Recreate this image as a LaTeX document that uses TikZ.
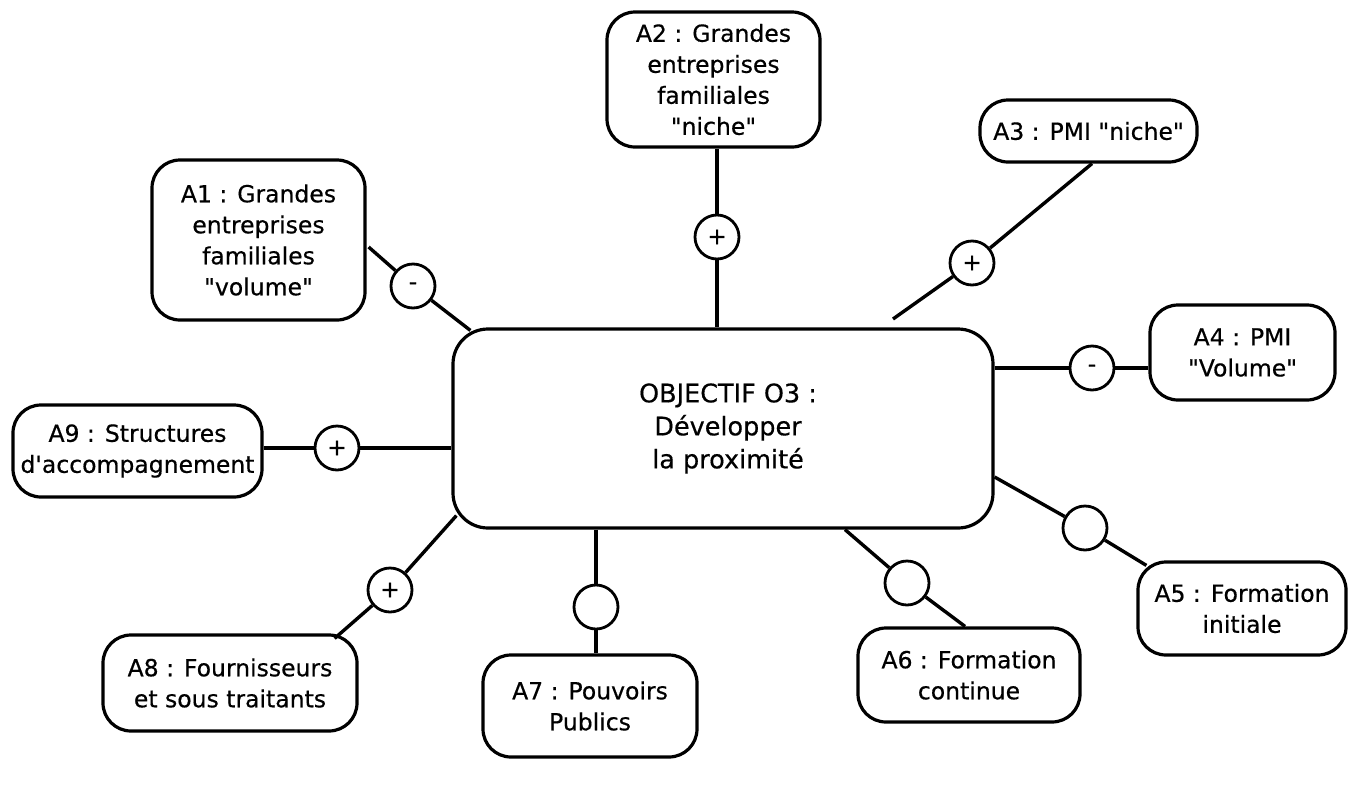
\documentclass[tikz,border=0pt]{standalone}
\usepackage{fontspec}
\setmainfont{DejaVu Sans}[Ligatures=TeXOff, FakeBold=0.5]
\newcommand\boxfont{\fontsize{23.5}{31}\selectfont}
\newcommand\mainfont{\fontsize{25.5}{33}\selectfont}
\newcommand\signfont{\fontsize{23}{23}\selectfont}
\begin{document}
\begin{tikzpicture}[x=1pt,y=-1pt,
  box/.style={draw, line width=3.2pt, rounded corners=28pt, align=center,
    inner sep=0pt, font=\boxfont},
  sign/.style={draw, circle, line width=2.8pt, minimum size=44pt,
    inner sep=0pt, font=\signfont},
  link/.style={line width=3.4pt}]
\useasboundingbox (0,0) rectangle (1358,785);

% central objective
\node[box, rounded corners=35pt, minimum width=540pt, minimum height=199pt,
  font=\mainfont]
  (obj) at (723,428.5) {\hspace*{10pt}OBJECTIF O3 :\\\hspace*{10pt}Développer\\\hspace*{10pt}la proximité};

% actors
\node[box, minimum width=213pt, minimum height=160pt] (a1) at (258.5,240)
  {A1 : Grandes\\entreprises\\familiales\\"volume"};
\node[box, minimum width=213pt, minimum height=135pt] (a2) at (713.5,79.5)
  {A2 : Grandes\\entreprises\\familiales\\"niche"};
\node[box, minimum width=217pt, minimum height=62pt] (a3) at (1088.5,131)
  {A3 : PMI "niche"};
\node[box, minimum width=185pt, minimum height=95pt] (a4) at (1242.5,352.5)
  {A4 : PMI\\"Volume"};
\node[box, minimum width=208pt, minimum height=93pt] (a5) at (1242,608.5)
  {A5 : Formation\\initiale};
\node[box, minimum width=222pt, minimum height=94pt] (a6) at (969,675)
  {A6 : Formation\\continue};
\node[box, minimum width=214pt, minimum height=102pt] (a7) at (590,706)
  {A7 : Pouvoirs\\Publics};
\node[box, minimum width=254pt, minimum height=96pt] (a8) at (230,683)
  {A8 : Fournisseurs\\et sous traitants};
\node[box, minimum width=249pt, minimum height=92pt] (a9) at (137.5,451)
  {A9 : Structures\\d'accompagnement};

% influence signs
\node[sign] (m1) at (413,286) {-};
\node[sign] (m2) at (717,237) {+};
\node[sign] (m3) at (972,263) {+};
\node[sign] (m4) at (1092,368) {\raisebox{-8pt}{-}\hspace{10pt}};
\node[sign] (m5) at (1085,528) {};
\node[sign] (m6) at (907,583) {};
\node[sign] (m7) at (596,607) {};
\node[sign] (m8) at (390,590) {+};
\node[sign] (m9) at (337,448) {+};

\coordinate (e3) at (893,319);

% links
\draw[link] ([shift={(2,7)}]a1.east) -- (m1) -- ([shift={(19,3)}]obj.north west);
\draw[link] (a2.south -| m2) -- (m2) -- (obj.north -| m2);
\draw[link] ([shift={(3.5,0)}]a3.south) -- (m3) -- (e3);
\draw[link] (obj.east |- m4) -- (m4) -- (a4.west |- m4);
\draw[link] ([shift={(0,48.5)}]obj.east) -- (m5) -- ([shift={(10,5)}]a5.north west);
\draw[link] ([shift={(122,0)}]obj.south) -- (m6) -- ([shift={(-4,0)}]a6.north);
\draw[link] (obj.south -| m7) -- (m7) -- (a7.north -| m7);
\draw[link] ([shift={(5,-14)}]obj.south west) -- (m8) -- ([shift={(-24,5)}]a8.north east);
\draw[link] (a9.east |- m9) -- (m9) -- (obj.west |- m9);
\end{tikzpicture}
\end{document}
